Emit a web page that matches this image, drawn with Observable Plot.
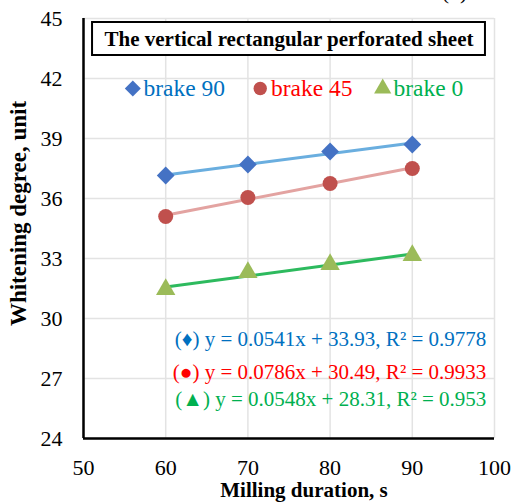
<!DOCTYPE html>
<html>
<head>
<meta charset="utf-8">
<script src="https://cdn.jsdelivr.net/npm/d3@7"></script>
<script src="https://cdn.jsdelivr.net/npm/@observablehq/plot@0.6"></script>
<style>
  html, body { margin: 0; padding: 0; background: #fff; }
</style>
</head>
<body>
<div id="chart"></div>
<script>
const durations = [60, 70, 80, 90];
const brake90 = [37.15, 37.7, 38.35, 38.7];
const brake45 = [35.1, 36.05, 36.75, 37.5];
const brake0 = [31.45, 32.3, 32.7, 33.15];
const seriesNames = ["brake 90", "brake 45", "brake 0"];
const equations = [
  "(♦) y = 0.0541x + 33.93, R² = 0.9778",
  "(●) y = 0.0786x + 30.49, R² = 0.9933",
  "(▲) y = 0.0548x + 28.31, R² = 0.953"
];
const xTicks = [50, 60, 70, 80, 90, 100];
const yTicks = [24, 27, 30, 33, 36, 39, 42, 45];
const titleText = "The vertical rectangular perforated sheet";

const markerColors = ["#4472C4", "#C0504D", "#9BBB59"];
const lineColors = ["#6AAEDF", "#E3A3A1", "#2DBA5E"];
const textColors = ["#0070C0", "#FF0000", "#00B050"];
const symbols = ["diamond2", "circle", "triangle"];
const radii = [8, 7.5, 7.2];

const allSeries = [brake90, brake45, brake0];
const data = [];
allSeries.forEach((vals, i) => vals.forEach((v, j) => data.push({s: i, x: durations[j], y: v})));

const marks = [
  Plot.gridX(xTicks, {stroke: "#e3e3e3", strokeOpacity: 1, strokeWidth: 1.5}),
  Plot.gridY(yTicks, {stroke: "#e3e3e3", strokeOpacity: 1, strokeWidth: 1.5}),
  Plot.axisX(xTicks, {tickSize: 0, tickPadding: 21, fontSize: 22, label: null}),
  Plot.axisY(yTicks, {tickSize: 0, tickPadding: 21, fontSize: 22, label: null}),
  Plot.ruleX([50], {stroke: "#000", strokeWidth: 2.5}),
  Plot.ruleY([24], {stroke: "#000", strokeWidth: 2.5}),
];
allSeries.forEach((vals, i) => {
  const d = data.filter(r => r.s === i);
  marks.push(Plot.linearRegressionY(d, {x: "x", y: "y", stroke: lineColors[i], strokeWidth: 3, ci: 0}));
  marks.push(Plot.dot(d, {x: "x", y: "y", symbol: () => symbols[i], r: radii[i], fill: markerColors[i], stroke: "none"}));
});
// title box
marks.push(Plot.rect([titleText], {x1: 51.1, x2: 98.9, y1: 43.15, y2: 44.8, fill: "white", stroke: "#000", strokeWidth: 2}));
marks.push(Plot.text([titleText], {x: 75, y: 43.95, text: d => d, fontWeight: "bold", fontSize: 21, fill: "#000"}));
// legend
const legendX = [56, 71.5, 86.4];
seriesNames.forEach((name, i) => {
  marks.push(Plot.dot([name], {x: legendX[i], y: 41.5, symbol: () => symbols[i], r: radii[i] - 0.8, fill: markerColors[i]}));
  marks.push(Plot.text([name], {x: legendX[i] + 1.3, y: 41.5, text: d => d, textAnchor: "start", fontSize: 23.5, fill: textColors[i]}));
});
// equations
const eqY = [28.95, 27.3, 25.95];
equations.forEach((eq, i) => {
  marks.push(Plot.text([eq], {x: 99.0, y: eqY[i], text: d => d, textAnchor: "end", fontSize: 21, fill: textColors[i]}));
});
// axis titles
marks.push(Plot.text(["Milling duration, s"], {frameAnchor: "bottom", textAnchor: "middle", lineAnchor: "middle", dx: 15, dy: 52, text: d => d, fontWeight: "bold", fontSize: 21}));
marks.push(Plot.text(["Whitening degree, unit"], {frameAnchor: "left", textAnchor: "middle", lineAnchor: "middle", dx: -65, dy: -15, rotate: -90, text: d => d, fontWeight: "bold", fontSize: 23}));
marks.push(Plot.text(["(b)"], {frameAnchor: "top-right", textAnchor: "middle", lineAnchor: "middle", dx: -40, dy: -27, text: d => d, fontSize: 22}));

const chart = Plot.plot({
  width: 515,
  height: 504,
  marginLeft: 83,
  marginRight: 21,
  marginTop: 18,
  marginBottom: 66,
  x: {domain: [50, 100]},
  y: {domain: [24, 45]},
  style: {fontFamily: "'Liberation Serif', 'Times New Roman', serif", fontSize: "22px", color: "#000", background: "#fff", overflow: "visible"},
  marks
});
document.getElementById("chart").appendChild(chart);
</script>
</body>
</html>
